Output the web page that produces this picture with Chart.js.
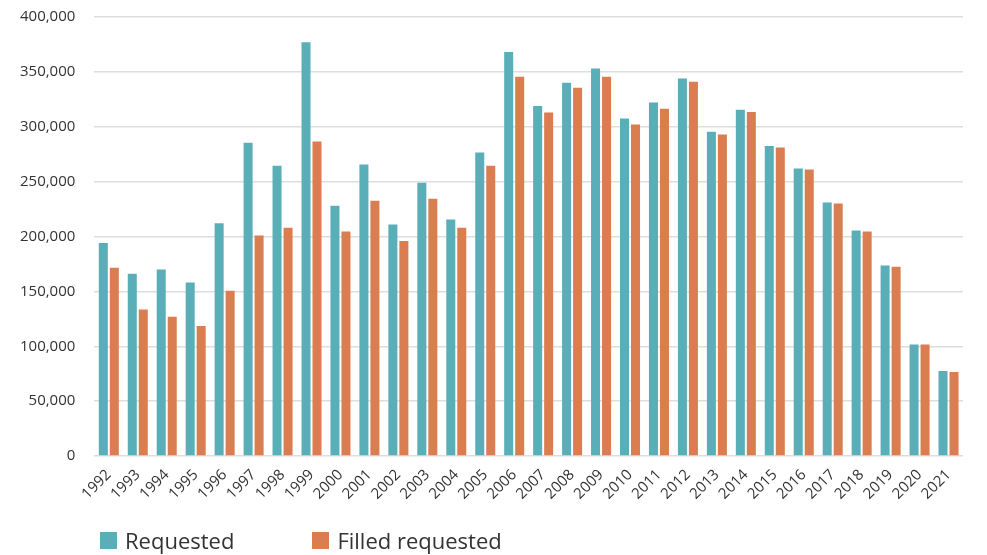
<!DOCTYPE html>
<html>
<head>
<meta charset="utf-8">
<script src="https://cdn.jsdelivr.net/npm/chart.js@4"></script>
<style>
  html, body { margin: 0; padding: 0; background: #fff; }
  #wrap { position: relative; width: 987px; height: 555px; }
  #legend { position: absolute; left: 100px; top: 525px; display: flex; font-family: "Open Sans", sans-serif; font-size: 22px; color: #333; }
  .item { display: flex; align-items: center; margin-right: 78px; }
  .sw { width: 17px; height: 17px; margin-right: 8px; }
</style>
</head>
<body>
<div id="wrap">
  <canvas id="chart" width="987" height="555"></canvas>
  <div id="legend"></div>
</div>
<script>
const years = ['1992','1993','1994','1995','1996','1997','1998','1999','2000','2001',
  '2002','2003','2004','2005','2006','2007','2008','2009','2010','2011',
  '2012','2013','2014','2015','2016','2017','2018','2019','2020','2021'];

const requested = [194000, 166000, 170000, 158000, 212000, 285500, 264500, 377000, 228000, 265500,
  211000, 249000, 215500, 276500, 368000, 319000, 340000, 353000, 307500, 322000,
  344000, 295500, 315500, 282500, 262000, 231000, 205500, 173500, 101500, 77500];

const filled = [171500, 133500, 127000, 118500, 150500, 201000, 208000, 286500, 204500, 232500,
  196000, 234500, 208000, 264500, 345500, 313000, 335500, 345500, 302000, 316500,
  341000, 293000, 313500, 281000, 261000, 230000, 204500, 172500, 101500, 76500];

const seriesNames = ['Requested', 'Filled requested'];
const seriesColors = ['#5aaeb8', '#da7e52'];

const ctx = document.getElementById('chart').getContext('2d');

const chart = new Chart(ctx, {
  type: 'bar',
  data: {
    labels: years,
    datasets: [
      { label: seriesNames[0], data: requested, backgroundColor: seriesColors[0] },
      { label: seriesNames[1], data: filled, backgroundColor: seriesColors[1] }
    ]
  },
  options: {
    responsive: false,
    animation: false,
    categoryPercentage: 0.76,
    barPercentage: 0.82,
    layout: { padding: { top: 17, left: 20, right: 24, bottom: 50 } },
    plugins: {
      legend: { display: false },
      tooltip: { enabled: false }
    },
    scales: {
      x: {
        grid: { display: false },
        border: { display: false },
        ticks: {
          color: '#333',
          font: { family: 'Open Sans', size: 15 },
          minRotation: 45,
          maxRotation: 45,
          autoSkip: false,
          padding: 2
        }
      },
      y: {
        min: 0,
        max: 400000,
        border: { display: false },
        // invisible ticks make the gap to the labels (tick padding would also pad the top)
        grid: { color: '#dedede', lineWidth: 1.5, drawTicks: true, tickLength: 19, tickColor: 'rgba(0,0,0,0)' },
        ticks: {
          stepSize: 50000,
          color: '#333',
          padding: 0,
          font: { family: 'Open Sans', size: 15 },
          callback: function(v) { return v.toLocaleString('en-US'); }
        }
      }
    }
  }
});

// legend in HTML so it can sit under the plot like the original
const legend = document.getElementById('legend');
seriesNames.forEach(function(name, i) {
  const item = document.createElement('div');
  item.className = 'item';
  const sw = document.createElement('div');
  sw.className = 'sw';
  sw.style.background = seriesColors[i];
  const txt = document.createElement('span');
  txt.textContent = name;
  item.appendChild(sw);
  item.appendChild(txt);
  legend.appendChild(item);
});
</script>
</body>
</html>
